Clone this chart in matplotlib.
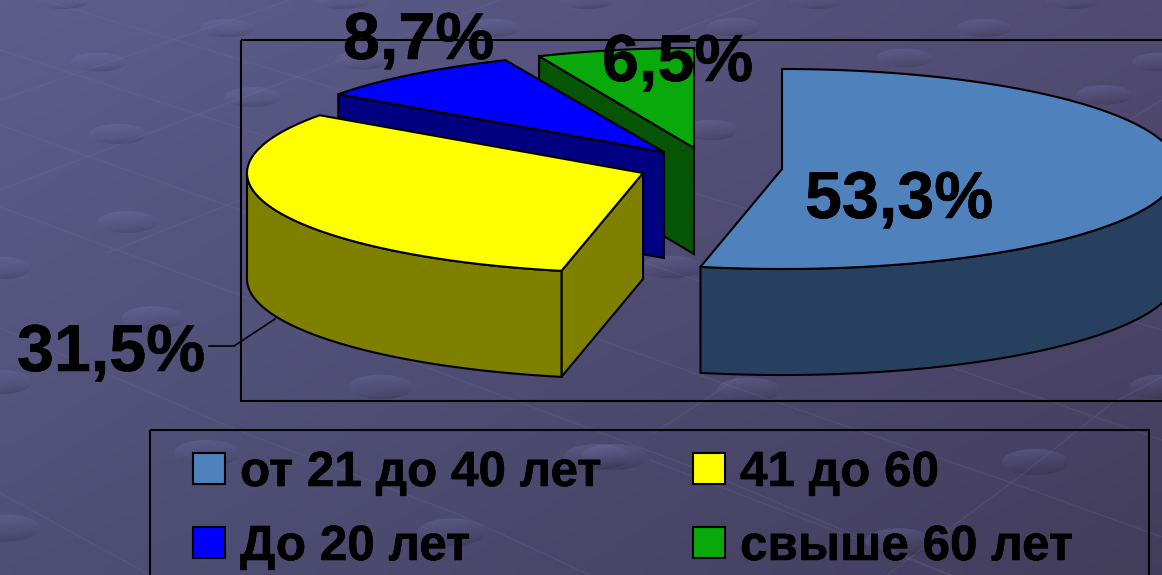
import numpy as np
import matplotlib
matplotlib.use("Agg")
import matplotlib.pyplot as plt
import matplotlib.patheffects as pe
from matplotlib.patches import Ellipse, Polygon, Rectangle

plt.rcParams['font.family'] = ['Liberation Sans', 'DejaVu Sans']
plt.rcParams['text.hinting'] = 'none'

categories = ["от 21 до 40 лет", "41 до 60", "До 20 лет", "свыше 60 лет"]
values = [53.3, 31.5, 8.7, 6.5]
value_labels = ["53,3%", "31,5%", "8,7%", "6,5%"]

top_colors = ["#4f81bd", "#ffff00", "#0000ff", "#09a80b"]
side_colors = ["#28405f", "#808000", "#000080", "#055505"]

# wedge apex in pixels, the pie is exploded so each one differs
centers = [(782, 169), (643, 173), (664, 152), (694, 148)]
radii_x = [396, 396, 399, 390]
label_pos = [(805, 218), (17, 371), (343, 59), (602, 81)]
RY, DEPTH = 100, 106

# background decoration
blobs = [(227, 28), (98, 62), (253, 97), (118, 134), (127, 222), (0, 268), (63, 0), (343, 0),
         (363, 60), (153, 318), (381, 387), (207, 453), (6, 528), (452, 532), (0, 382), (597, 457),
         (749, 390), (614, 457), (1035, 462), (899, 542), (1162, 387), (586, 0), (817, 0),
         (1073, 0), (734, 27), (984, 28), (904, 58), (1104, 95), (493, 28), (710, 130),
         (1160, 62), (671, 267)]
grid_lines = [[(43, 0), (400, 108), (700, 195), (1162, 330)],
              [(0, 50), (400, 180), (800, 315), (1162, 440)],
              [(0, 125), (240, 210), (600, 340), (779, 403), (1012, 483), (1162, 537)],
              [(0, 207), (240, 295), (460, 380), (700, 470), (950, 575)],
              [(0, 328), (237, 430), (460, 515), (590, 575)],
              [(0, 493), (150, 575)],
              [(650, 460), (833, 530), (950, 575)],
              [(0, 100), (173, 40), (290, 0)],
              [(0, 190), (197, 115), (297, 77), (400, 37), (500, 0)],
              [(107, 253), (240, 200), (500, 100), (760, 0)],
              [(654, 433), (715, 393), (1000, 200), (1162, 100)],
              [(887, 575), (1019, 477), (1112, 403), (1162, 377)]]


def arc(center, rx, start, end):
    # angles in percent of the pie, clockwise from 12 o'clock
    t = np.radians(np.linspace(start, end, 120) * 3.6)
    return np.column_stack([center[0] + rx * np.sin(t), center[1] - RY * np.cos(t)])


def draw_background(ax):
    x = np.linspace(0, 1, 60)
    y = np.linspace(0, 1, 30)
    xx, yy = np.meshgrid(x, y)
    c0 = np.array([93, 93, 140]) / 255
    dx = np.array([-12, -18, -26]) / 255
    dy = np.array([-14, -14, -22]) / 255
    img = c0 + xx[..., None] * dx + yy[..., None] * dy
    ax.imshow(img, extent=(0, 1162, 575, 0), aspect="auto", interpolation="bilinear", zorder=0)

    for line in grid_lines:
        pts = np.array(line)
        ax.plot(pts[:, 0], pts[:, 1], color="#77769f", lw=1, alpha=0.2, zorder=1)

    shade = np.linspace(0.26, -0.12, 32)[:, None] + np.linspace(0.05, -0.05, 32)[None, :]
    for bx, by in blobs:
        w = 54 + 16 * by / 575
        h = 18 + 10 * by / 575
        rgba = np.zeros((32, 32, 4))
        rgba[..., :3] = (shade > 0)[..., None] * np.array([0.5, 0.5, 0.75])
        rgba[..., 3] = np.abs(shade)
        im = ax.imshow(rgba, extent=(bx - w / 2, bx + w / 2, by + h / 2, by - h / 2),
                       aspect="auto", interpolation="bilinear", zorder=2)
        clip = Ellipse((bx, by), w, h, transform=ax.transData)
        im.set_clip_path(clip)
    ax.set_xlim(0, 1162)
    ax.set_ylim(575, 0)


def draw_pie(ax):
    edges = np.cumsum([0] + values)
    down = np.array([0, DEPTH])
    # drawn back to front
    for i in [3, 2, 1, 0]:
        c = np.array(centers[i], dtype=float)
        start, end = edges[i], edges[i + 1]
        rim = arc(c, radii_x[i], start, end)
        z = 10 + (3 - i) * 2

        # flat cut face
        if i in (1, 2, 3):
            face = [rim[0], c, c + down, rim[0] + down]
            ax.add_patch(Polygon(face, fc=side_colors[i], ec="black", lw=1.5, zorder=z))

        # round outer wall, only the lower half of the rim shows
        if i in (0, 1):
            lo, hi = max(start, 25), min(end, 75)
            wall = arc(c, radii_x[i], lo, hi)
            poly = np.vstack([wall, wall[::-1] + down])
            ax.add_patch(Polygon(poly, fc=side_colors[i], ec="black", lw=1.5, zorder=z))

        top = np.vstack([c, rim])
        ax.add_patch(Polygon(top, fc=top_colors[i], ec="black", lw=1.5, zorder=z + 1))


def main():
    fig = plt.figure(figsize=(11.62, 5.75), dpi=100)
    ax = fig.add_axes([0, 0, 1, 1])
    ax.set_axis_off()
    draw_background(ax)

    # plot area and legend frames
    ax.add_patch(Rectangle((241, 40), 1000, 361, fc="none", ec="black", lw=1.5, zorder=5))
    ax.add_patch(Rectangle((150, 430), 999, 200, fc="none", ec="black", lw=1.5, zorder=5))

    draw_pie(ax)

    ax.plot([209, 234, 275], [346, 346, 319], color="black", lw=1.2, zorder=20)
    heavy = [pe.withStroke(linewidth=0.4, foreground="black")]
    for text, (x, y) in zip(value_labels, label_pos):
        ax.text(x, y, text, fontsize=47.8, fontweight="bold", color="black",
                ha="left", va="baseline", zorder=30, path_effects=heavy)

    swatch_x = [193, 193, 693, 693]
    swatch_y = [453, 527, 453, 527]
    order = [0, 2, 1, 3]
    for k, i in enumerate(order):
        ax.add_patch(Rectangle((swatch_x[k], swatch_y[k]), 32, 31, fc=top_colors[i],
                               ec="black", lw=1.5, zorder=25))
        ax.text(swatch_x[k] + 47, swatch_y[k] + 33, categories[i], fontsize=35.6, fontweight="bold",
                color="black", ha="left", va="baseline", zorder=30, path_effects=heavy)

    ax.set_xlim(0, 1162)
    ax.set_ylim(575, 0)
    fig.savefig("out.png", dpi=100)


if __name__ == "__main__":
    main()
